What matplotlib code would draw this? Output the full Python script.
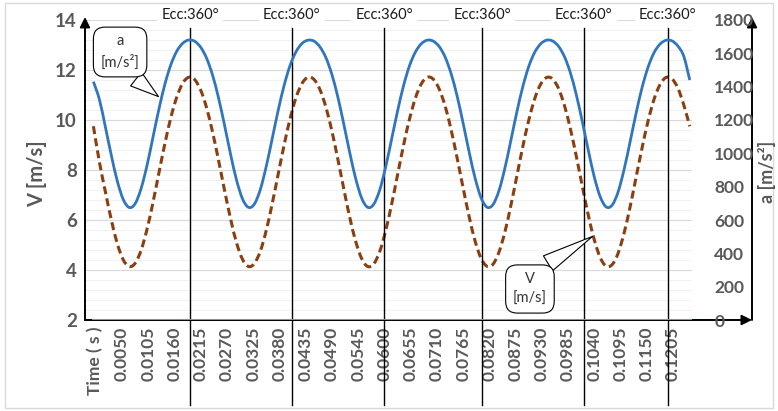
import matplotlib
matplotlib.use("Agg")
import matplotlib.pyplot as plt
from matplotlib.patches import Rectangle, PathPatch
from matplotlib.path import Path

plt.rcParams['font.family'] = ['Lato', 'DejaVu Sans']

# one reading every 0.00125 s
time = [round(-0.001 + 0.00125 * i, 5) for i in range(101)]

# V [m/s] (dashed, left axis)
velocity = [9.75, 8.33, 7.14, 6.01, 5.06, 4.41, 4.14, 4.27, 4.79, 5.64,
            6.71, 7.90, 9.07, 10.11, 10.93, 11.48, 11.71, 11.61, 11.19, 10.47,
            9.50, 8.37, 7.18, 6.05, 5.09, 4.43, 4.14, 4.26, 4.76, 5.60,
            6.67, 7.85, 9.02, 10.07, 10.91, 11.47, 11.71, 11.62, 11.21, 10.50,
            9.55, 8.42, 7.23, 6.09, 5.13, 4.45, 4.14, 4.24, 4.73, 5.56,
            6.62, 7.80, 8.98, 10.03, 10.88, 11.45, 11.71, 11.63, 11.23, 10.54,
            9.59, 8.47, 7.28, 6.14, 5.16, 4.47, 4.15, 4.23, 4.71, 5.52,
            6.58, 7.75, 8.93, 9.99, 10.85, 11.43, 11.70, 11.64, 11.26, 10.57,
            9.63, 8.52, 7.33, 6.18, 5.20, 4.49, 4.15, 4.22, 4.68, 5.49,
            6.53, 7.71, 8.88, 9.95, 10.82, 11.41, 11.70, 11.65, 11.28, 10.60,
            9.75]

# a [m/s2] (solid, right axis)
accel = [1430, 1324, 1160, 989, 835, 724, 675, 698, 789, 929,
         1098, 1267, 1416, 1533, 1614, 1661, 1680, 1672, 1636, 1569,
         1467, 1330, 1167, 995, 840, 727, 676, 696, 784, 924,
         1091, 1260, 1410, 1529, 1611, 1660, 1679, 1673, 1638, 1573,
         1472, 1336, 1173, 1002, 846, 730, 676, 694, 779, 917,
         1084, 1253, 1405, 1525, 1608, 1658, 1679, 1673, 1640, 1576,
         1476, 1342, 1180, 1009, 852, 734, 677, 692, 775, 911,
         1077, 1247, 1399, 1521, 1606, 1657, 1679, 1674, 1642, 1579,
         1481, 1348, 1187, 1016, 857, 738, 678, 690, 770, 905,
         1070, 1240, 1394, 1516, 1603, 1655, 1678, 1675, 1644, 1582,
         1440]

base = [0] * len(time)

tick_labels = ['0.0050', '0.0105', '0.0160', '0.0215', '0.0270', '0.0325',
               '0.0380', '0.0435', '0.0490', '0.0545', '0.0600', '0.0655',
               '0.0710', '0.0765', '0.0820', '0.0875', '0.0930', '0.0985',
               '0.1040', '0.1095', '0.1150', '0.1205']

ecc_times = [0.0193, 0.0406, 0.0599, 0.0805, 0.1018, 0.1194]
ecc_label = 'Ecc:360°'

grey = '#595959'
blue = '#3175bd'
brown = '#8a3f12'


def smooth_path(xs, ys):
    # Excel style "smoothed line": cubic bezier through every point
    n = len(xs)
    verts = [(xs[0], ys[0])]
    codes = [Path.MOVETO]
    for i in range(n - 1):
        a, b = max(i - 1, 0), min(i + 2, n - 1)
        c1 = (xs[i] + (xs[i + 1] - xs[a]) / 6, ys[i] + (ys[i + 1] - ys[a]) / 6)
        c2 = (xs[i + 1] - (xs[b] - xs[i]) / 6, ys[i + 1] - (ys[b] - ys[i]) / 6)
        verts += [c1, c2, (xs[i + 1], ys[i + 1])]
        codes += [Path.CURVE4] * 3
    return Path(verts, codes)


fig = plt.figure(figsize=(7.78, 4.11), dpi=100)
ax = fig.add_axes([85 / 778, 91 / 411, 607 / 778, 300 / 411])
ax2 = ax.twinx()

# grid
ax.set_ylim(2, 14)
ax.set_yticks(range(2, 15, 2))
ax.set_yticks([2 + 0.4 * i for i in range(31)], minor=True)
ax.grid(True, axis='y', which='major', color='#d9d9d9', lw=0.8)
ax.grid(True, axis='y', which='minor', color='#efefef', lw=0.6)
ax.set_axisbelow(True)

ax.add_patch(PathPatch(smooth_path(time, velocity), fill=False, ec=brown,
                       lw=2.2, ls=(0, (2.6, 1.4)), zorder=3))
ax2.add_patch(PathPatch(smooth_path(time, accel), fill=False, ec=blue,
                        lw=2, zorder=3))
ax2.plot(time, base, color='#5b9bd5', lw=2.2, zorder=2)
ax2.set_ylim(0, 1800)
ax2.set_yticks(range(0, 1801, 200))

ax.set_xlim(-0.00276, 0.12447)
ax.set_xticks([-0.0006] + [float(s) for s in tick_labels])
ax.set_xticklabels(['Time ( s )'] + tick_labels, rotation=90,
                   fontsize=12.5, fontweight='bold', color=grey)

for a in (ax, ax2):
    for s in a.spines.values():
        s.set_visible(False)
ax.tick_params(axis='both', which='both', length=0)
ax2.tick_params(axis='both', which='both', length=0)
ax.tick_params(axis='y', pad=6, labelsize=13.5, labelcolor=grey)
ax.tick_params(axis='x', pad=5)
ax2.tick_params(axis='y', pad=16, labelsize=12.5, labelcolor=grey)
for lab in ax.get_yticklabels() + ax2.get_yticklabels():
    lab.set_fontweight('bold')

# axis arrows
arrow = dict(arrowstyle='-|>,head_length=0.6,head_width=0.3', color='black',
             lw=1.4, shrinkA=0, shrinkB=0)
right_x = (752 - 85) / 607
ax.annotate('', xy=(0, 1.01), xytext=(0, 0), xycoords='axes fraction',
            arrowprops=arrow, annotation_clip=False)
ax.annotate('', xy=(right_x, 0), xytext=(0, 0), xycoords='axes fraction',
            arrowprops=arrow, annotation_clip=False)
ax.annotate('', xy=(right_x, 1.01), xytext=(right_x, 0), xycoords='axes fraction',
            arrowprops=arrow, annotation_clip=False)

# Ecc markers
xt = ax.get_xaxis_transform()
for t in ecc_times:
    ax.plot([t, t], [-0.283, 0.973], transform=xt, color='black', lw=1,
            clip_on=False, zorder=4)
    ax.text(t, 1.017, ecc_label, transform=xt, ha='center', va='center',
            fontsize=10.5, color='#1a1a1a',
            bbox=dict(fc='white', ec='none', pad=3))

# callouts
box = dict(boxstyle='round,pad=0.5,rounding_size=0.8', fc='white',
           ec='black', lw=0.8)
ax2.annotate('a\n[m/s²]', xy=(0.0131, 1330), xytext=(0.0046, 1608),
             ha='center', va='center', fontsize=10.5, color='#333333',
             linespacing=1.5, zorder=6, bbox=box,
             arrowprops=dict(arrowstyle='wedge,tail_width=0.7,shrink_factor=0.5',
                             fc='white', ec='black', lw=0.8, mutation_scale=18,
                             relpos=(0.6, 0.0)))
ax.annotate('V\n[m/s]', xy=(0.1041, 5.4), xytext=(0.0905, 3.24),
            ha='center', va='center', fontsize=10.5, color='#333333',
            linespacing=1.5, zorder=6, bbox=box,
            arrowprops=dict(arrowstyle='wedge,tail_width=0.7,shrink_factor=0.5',
                            fc='white', ec='black', lw=0.8, mutation_scale=18,
                            relpos=(0.6, 1.0)))

fig.text(37 / 778, (411 - 174) / 411, 'V [m/s]', rotation=90, ha='center',
         va='center', fontsize=14.5, fontweight='bold', color=grey)
fig.text(767 / 778, (411 - 172) / 411, 'a [m/s²]', rotation=90, ha='center',
         va='center', fontsize=13, fontweight='bold', color=grey)

fig.add_artist(Rectangle((5 / 778, 3 / 411), 768 / 778, 405 / 411,
                         transform=fig.transFigure, fill=False,
                         ec='#d9d9d9', lw=1))

fig.savefig('out.png', dpi=100)
